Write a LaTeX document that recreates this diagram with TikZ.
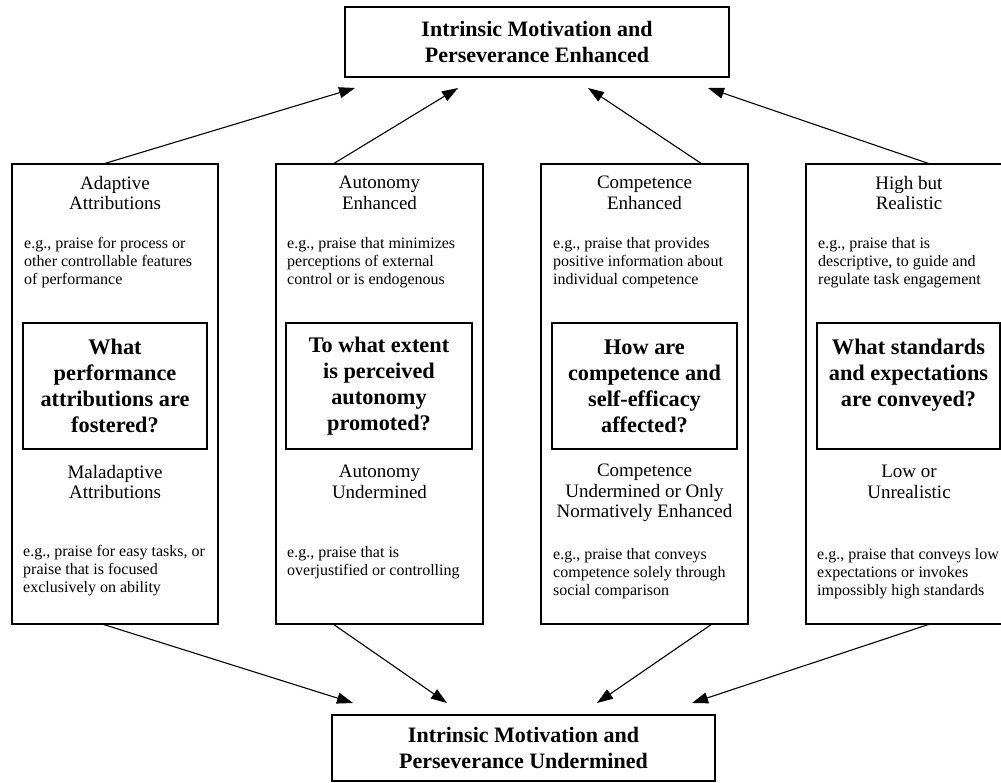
\documentclass[tikz,border=0pt]{standalone}
\usepackage{fontspec}
\setmainfont{Liberation Serif}
\usetikzlibrary{arrows.meta}
\begin{document}
\begin{tikzpicture}[x=1pt,y=-1pt,
  box/.style={draw, line width=1.3pt, inner sep=0pt},
  title/.style={box, minimum width=384pt, font=\bfseries\fontsize{22}{26}\selectfont, align=center},
  colbox/.style={box, minimum width=206pt, minimum height=460pt},
  qbox/.style={box, minimum height=126pt, font=\bfseries\fontsize{22.3}{26}\selectfont, align=center},
  head/.style={font=\fontsize{19}{20.5}\selectfont, align=center, inner sep=0pt},
  eg/.style={font=\fontsize{16}{18}\selectfont, align=left, anchor=west, inner sep=0pt},
  arr/.style={line width=1.1pt, -{Triangle[length=16pt,width=11pt]}}
]
\clip (0,0) rectangle (1001,783);
\fill[white] (0,0) rectangle (1001,783);

% top and bottom boxes
\node[title, minimum height=70pt] (top) at (537,42) {Intrinsic Motivation and\\Perseverance Enhanced};
\node[title, minimum width=383pt, minimum height=66pt] (bot) at (523.5,748) {Intrinsic Motivation and\\Perseverance Undermined};

% column boxes
\node[colbox] (c1) at (115,394) {};
\node[colbox, minimum width=207pt] (c2) at (379.5,394) {};
\node[colbox, minimum width=207pt] (c3) at (644.5,394) {};
\node[colbox] (c4) at (909,394) {};

% question boxes
\node[qbox, minimum width=184pt] (q1) at (115,386) {What\\performance\\attributions are\\fostered?};
\node[qbox, minimum width=186pt] (q2) at (379,386) {To what extent\\is perceived\\autonomy\\promoted?};
\node[qbox, minimum width=185pt] (q3) at (644.5,386) {How are\\competence and\\self-efficacy\\affected?};
\node[qbox, minimum width=183pt] (q4) at (908.5,386) {What standards\\and expectations\\are conveyed?\\\mbox{}};

% headings (top)
\node[head] (h1) at (115,193) {Adaptive\\Attributions};
\node[head] (h2) at (379.5,193) {Autonomy\\Enhanced};
\node[head] (h3) at (644.5,193) {Competence\\Enhanced};
\node[head] (h4) at (909,193) {High but\\Realistic};

% examples (top)
\node[eg] (e1) at (24,263) {e.g., praise for process or\\other controllable features\\of performance};
\node[eg] (e2) at (287,263) {e.g., praise that minimizes\\perceptions of external\\control or is endogenous};
\node[eg] (e3) at (553,263) {e.g., praise that provides\\positive information about\\individual competence};
\node[eg] (e4) at (818,263) {e.g., praise that is\\descriptive, to guide and\\regulate task engagement};

% headings (bottom)
\node[head] (g1) at (115,482) {Maladaptive\\Attributions};
\node[head] (g2) at (379.5,482) {Autonomy\\Undermined};
\node[head] (g3) at (644.5,493) {Competence\\Undermined or Only\\Normatively Enhanced};
\node[head] (g4) at (909,482) {Low or\\Unrealistic};

% examples (bottom)
\node[eg] (f1) at (23,571) {e.g., praise for easy tasks, or\\praise that is focused\\exclusively on ability};
\node[eg] (f2) at (287,563) {e.g., praise that is\\overjustified or controlling};
\node[eg] (f3) at (553,574) {e.g., praise that conveys\\competence solely through\\social comparison};
\node[eg] (f4) at (817,574) {e.g., praise that conveys low\\expectations or invokes\\impossibly high standards};

% arrow endpoints
\coordinate (s1) at (103,164);
\coordinate (s2) at (333,164);
\coordinate (s3) at (702,164);
\coordinate (s4) at (930,164);
\coordinate (t1) at (355,88);
\coordinate (t2) at (458,88);
\coordinate (t3) at (588,88);
\coordinate (t4) at (708,88);
\coordinate (u1) at (102,624);
\coordinate (u2) at (333,624);
\coordinate (u3) at (712,624);
\coordinate (u4) at (930,624);
\coordinate (v1) at (353,703);
\coordinate (v2) at (447,703);
\coordinate (v3) at (597,703);
\coordinate (v4) at (692,703);

\foreach \i in {1,2,3,4} {
  \draw[arr] (s\i) -- (t\i);
  \draw[arr] (u\i) -- (v\i);
}
\end{tikzpicture}
\end{document}
